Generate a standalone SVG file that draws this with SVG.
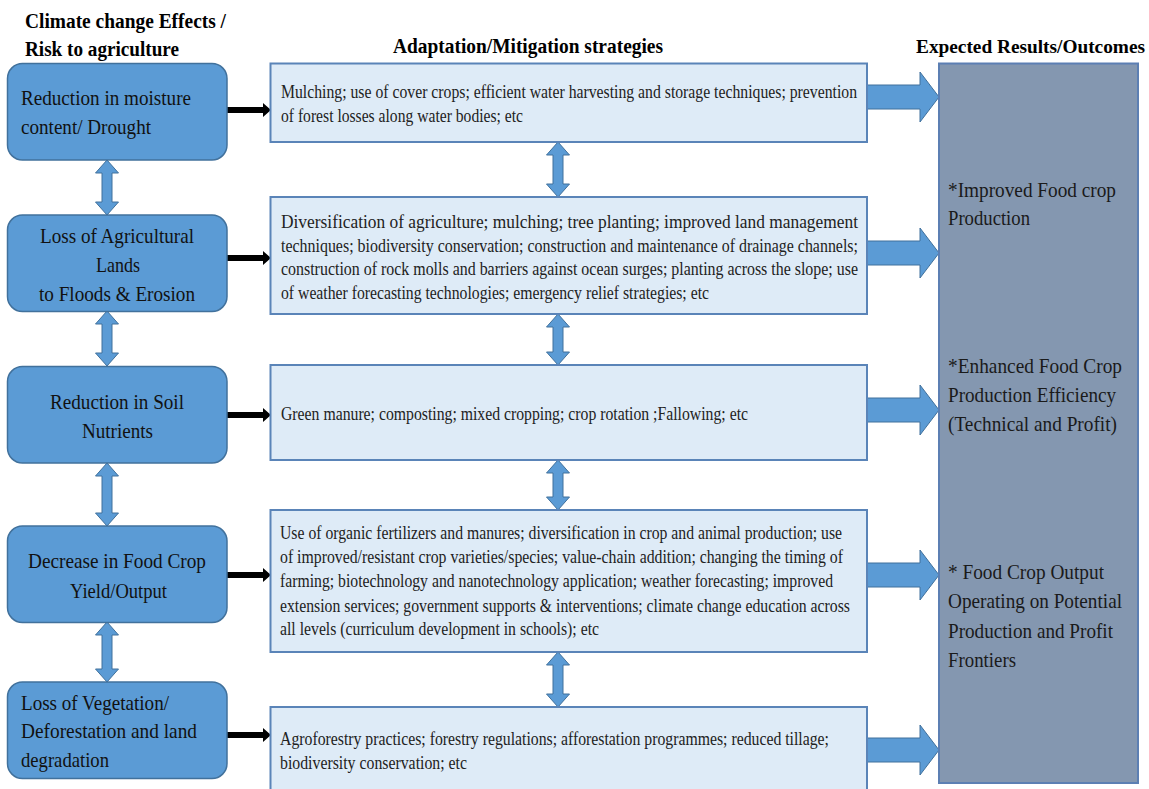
<svg xmlns="http://www.w3.org/2000/svg" width="1149" height="789" viewBox="0 0 1149 789">
<style>
text{font-family:'Liberation Serif','Times New Roman',serif}
.hdr{font-weight:bold;font-size:20px;fill:#000}
.lt{font-size:22px;fill:#111}
.mt{font-size:18px;fill:#222}
.rt{font-size:22px;fill:#1a1a1a}
.lbox{fill:#5B9BD5;stroke:#41719C;stroke-width:1.5}
.mbox{fill:#DEEBF7;stroke:#5A84B8;stroke-width:2}
.rbox{fill:#8497B0;stroke:#5C7FB3;stroke-width:2}
.barr{fill:#5B9BD5;stroke:#41719C;stroke-width:1}
.karr{fill:#000}
</style>
<rect width="1149" height="789" fill="#fff"/>

<g id="headers">
<text class="hdr" x="25" y="28" textLength="201" lengthAdjust="spacingAndGlyphs">Climate change Effects /</text>
<text class="hdr" x="25" y="56" textLength="154" lengthAdjust="spacingAndGlyphs">Risk to agriculture</text>
<text class="hdr" x="393" y="53" textLength="270" lengthAdjust="spacingAndGlyphs">Adaptation/Mitigation strategies</text>
<text class="hdr" x="916" y="53" textLength="229" lengthAdjust="spacingAndGlyphs" style="font-size:18.5px">Expected Results/Outcomes</text>
</g>

<g id="connectors">
<polygon class="barr" points="107,160 118.5,173 112,173 112,202 118.5,202 107,215 95.5,202 102,202 102,173 95.5,173"/>
<polygon class="barr" points="107,311 118.5,324 112,324 112,353 118.5,353 107,366 95.5,353 102,353 102,324 95.5,324"/>
<polygon class="barr" points="107,463 118.5,476 112,476 112,513 118.5,513 107,526 95.5,513 102,513 102,476 95.5,476"/>
<polygon class="barr" points="107,622 118.5,635 112,635 112,669 118.5,669 107,682 95.5,669 102,669 102,635 95.5,635"/>
<polygon class="barr" points="558,142 569.5,155 563,155 563,184 569.5,184 558,197 546.5,184 553,184 553,155 546.5,155"/>
<polygon class="barr" points="558,314 569.5,327 563,327 563,352 569.5,352 558,365 546.5,352 553,352 553,327 546.5,327"/>
<polygon class="barr" points="558,460 569.5,473 563,473 563,497 569.5,497 558,510 546.5,497 553,497 553,473 546.5,473"/>
<polygon class="barr" points="558,652 569.5,665 563,665 563,694 569.5,694 558,707 546.5,694 553,694 553,665 546.5,665"/>
<polygon class="karr" points="227,107 263,107 263,103 271,110 263,117 263,113 227,113"/>
<polygon class="karr" points="227,255 263,255 263,251 271,258 263,265 263,261 227,261"/>
<polygon class="karr" points="227,412 263,412 263,408 271,415 263,422 263,418 227,418"/>
<polygon class="karr" points="227,572 263,572 263,568 271,575 263,582 263,578 227,578"/>
<polygon class="karr" points="227,732 263,732 263,728 271,735 263,742 263,738 227,738"/>
<polygon class="barr" points="867,85 920,85 920,72 939,97 920,122 920,109 867,109"/>
<polygon class="barr" points="867,241 920,241 920,228 939,253 920,278 920,265 867,265"/>
<polygon class="barr" points="867,398 920,398 920,385 939,410 920,435 920,422 867,422"/>
<polygon class="barr" points="867,563 920,563 920,550 939,575 920,600 920,587 867,587"/>
<polygon class="barr" points="867,738 920,738 920,725 939,750 920,775 920,762 867,762"/>
</g>

<g id="risk1">
<rect class="lbox" x="7.5" y="63.5" width="219.5" height="96.5" rx="15"/>
<text class="lt" x="21" y="105" textLength="170" lengthAdjust="spacingAndGlyphs">Reduction  in moisture</text>
<text class="lt" x="21" y="134" textLength="130" lengthAdjust="spacingAndGlyphs">content/  Drought</text>
</g>
<g id="risk2">
<rect class="lbox" x="7.5" y="215" width="219.5" height="96.5" rx="15"/>
<text class="lt" x="40" y="243" textLength="154" lengthAdjust="spacingAndGlyphs">Loss of Agricultural</text>
<text class="lt" x="96" y="272" textLength="44" lengthAdjust="spacingAndGlyphs">Lands</text>
<text class="lt" x="39" y="301" textLength="156" lengthAdjust="spacingAndGlyphs">to Floods &amp; Erosion</text>
</g>
<g id="risk3">
<rect class="lbox" x="7.5" y="366.5" width="219.5" height="96.5" rx="15"/>
<text class="lt" x="50" y="409" textLength="134" lengthAdjust="spacingAndGlyphs">Reduction  in Soil</text>
<text class="lt" x="82" y="438" textLength="71" lengthAdjust="spacingAndGlyphs">Nutrients</text>
</g>
<g id="risk4">
<rect class="lbox" x="7.5" y="526" width="219.5" height="96.5" rx="15"/>
<text class="lt" x="28" y="568" textLength="178" lengthAdjust="spacingAndGlyphs">Decrease  in Food Crop</text>
<text class="lt" x="70" y="598" textLength="97" lengthAdjust="spacingAndGlyphs">Yield/Output</text>
</g>
<g id="risk5">
<rect class="lbox" x="7.5" y="682" width="219.5" height="96.5" rx="15"/>
<text class="lt" x="21" y="710" textLength="148" lengthAdjust="spacingAndGlyphs">Loss of Vegetation/</text>
<text class="lt" x="21" y="738" textLength="176" lengthAdjust="spacingAndGlyphs">Deforestation  and land</text>
<text class="lt" x="21" y="767" textLength="88" lengthAdjust="spacingAndGlyphs">degradation</text>
</g>

<g id="strategy1">
<rect class="mbox" x="270.5" y="63.5" width="596.5" height="78.5"/>
<text class="mt" x="281" y="98" textLength="576" lengthAdjust="spacingAndGlyphs">Mulching; use of cover crops; efficient water harvesting and storage techniques; prevention</text>
<text class="mt" x="281" y="122" textLength="242" lengthAdjust="spacingAndGlyphs">of forest losses along water bodies; etc</text>
</g>
<g id="strategy2">
<rect class="mbox" x="270.5" y="197" width="596.5" height="117"/>
<text class="mt" x="281" y="228" textLength="577" lengthAdjust="spacingAndGlyphs">Diversification of agriculture; mulching; tree planting; improved land management</text>
<text class="mt" x="281" y="252" textLength="577" lengthAdjust="spacingAndGlyphs">techniques; biodiversity conservation; construction and maintenance of drainage channels;</text>
<text class="mt" x="281" y="275" textLength="577" lengthAdjust="spacingAndGlyphs">construction of rock molls and barriers against ocean surges; planting across the slope; use</text>
<text class="mt" x="281" y="299" textLength="428" lengthAdjust="spacingAndGlyphs">of weather forecasting technologies; emergency relief strategies; etc</text>
</g>
<g id="strategy3">
<rect class="mbox" x="270.5" y="365" width="596.5" height="95"/>
<text class="mt" x="281" y="420" textLength="467" lengthAdjust="spacingAndGlyphs">Green manure; composting; mixed  cropping; crop rotation ;Fallowing; etc</text>
</g>
<g id="strategy4">
<rect class="mbox" x="270.5" y="510" width="596.5" height="142"/>
<text class="mt" x="280" y="539" textLength="562" lengthAdjust="spacingAndGlyphs">Use of organic fertilizers and manures; diversification  in crop and animal production; use</text>
<text class="mt" x="280" y="563" textLength="563" lengthAdjust="spacingAndGlyphs">of improved/resistant  crop varieties/species; value-chain addition; changing the timing  of</text>
<text class="mt" x="280" y="587" textLength="553" lengthAdjust="spacingAndGlyphs">farming;  biotechnology and nanotechnology application; weather forecasting;  improved</text>
<text class="mt" x="280" y="612" textLength="570" lengthAdjust="spacingAndGlyphs">extension services;  government  supports &amp; interventions; climate change education across</text>
<text class="mt" x="280" y="635" textLength="319" lengthAdjust="spacingAndGlyphs">all levels (curriculum development in schools); etc</text>
</g>
<g id="strategy5">
<rect class="mbox" x="270.5" y="707" width="596.5" height="95"/>
<text class="mt" x="280" y="745" textLength="549" lengthAdjust="spacingAndGlyphs">Agroforestry  practices; forestry regulations; afforestation programmes;  reduced tillage;</text>
<text class="mt" x="280" y="769" textLength="187" lengthAdjust="spacingAndGlyphs">biodiversity  conservation; etc</text>
</g>

<g id="outcomes">
<rect class="rbox" x="939" y="63.5" width="199" height="719.5"/>
<text class="rt" x="948" y="197" textLength="168" lengthAdjust="spacingAndGlyphs">*Improved Food crop</text>
<text class="rt" x="948" y="225" textLength="82" lengthAdjust="spacingAndGlyphs">Production</text>
<text class="rt" x="948" y="373" textLength="174" lengthAdjust="spacingAndGlyphs">*Enhanced  Food Crop</text>
<text class="rt" x="948" y="402" textLength="168" lengthAdjust="spacingAndGlyphs">Production  Efficiency</text>
<text class="rt" x="948" y="431" textLength="169" lengthAdjust="spacingAndGlyphs">(Technical  and Profit)</text>
<text class="rt" x="948" y="579" textLength="156" lengthAdjust="spacingAndGlyphs">* Food Crop Output</text>
<text class="rt" x="948" y="608" textLength="174" lengthAdjust="spacingAndGlyphs">Operating  on Potential</text>
<text class="rt" x="948" y="638" textLength="165" lengthAdjust="spacingAndGlyphs">Production  and Profit</text>
<text class="rt" x="948" y="667" textLength="68" lengthAdjust="spacingAndGlyphs">Frontiers</text>
</g>
</svg>
